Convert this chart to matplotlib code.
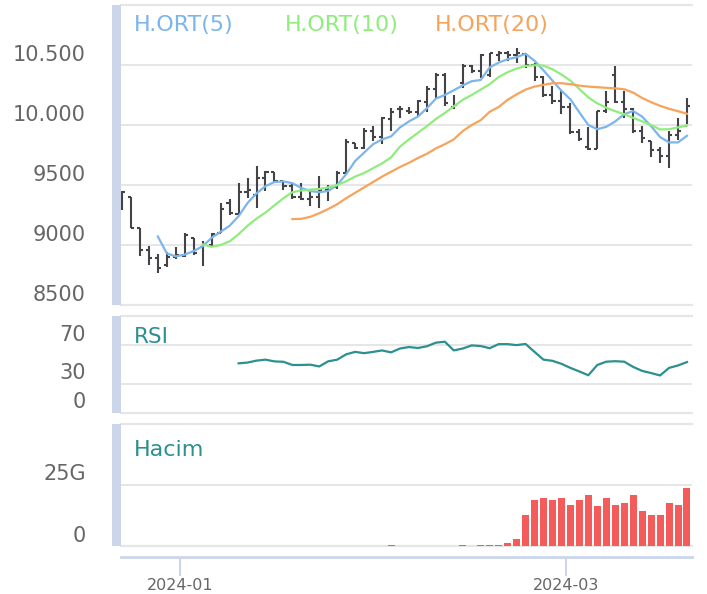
import matplotlib
matplotlib.use('Agg')
import matplotlib.pyplot as plt
import matplotlib.transforms as mtransforms
from matplotlib.patches import Rectangle
import pandas as pd

W, H = 707, 594

# trading days shown (BIST, 1 Jan closed)
dates = [d for d in pd.bdate_range('2023-12-21', '2024-03-20') if d != pd.Timestamp('2024-01-01')]
month_ticks = ['2024-01', '2024-03']

opens = [9400, 9400, 9145, 8960, 8890, 8830, 8900, 8910, 9060, 8980, 9000, 9100, 9350,
         9260, 9440, 9419, 9560, 9607, 9530, 9490, 9400, 9380, 9400, 9460, 9480,
         9600, 9850, 9810, 9950, 9900, 10050, 10130, 10120, 10110, 10190, 10300, 10420,
         10150, 10350, 10490, 10450, 10420, 10580, 10600, 10580, 10590, 10500, 10400,
         10250, 10200, 10150, 9940, 9820, 9800, 10116, 10420, 10191, 10130, 9950,
         9870, 9791, 9741, 9920, 9990]
highs = [9450, 9400, 9145, 8990, 8925, 8940, 8980, 9100, 9060, 9030, 9100, 9350, 9380,
         9520, 9559, 9657, 9615, 9607, 9531, 9520, 9517, 9461, 9573, 9500, 9615,
         9880, 9852, 9977, 9991, 10070, 10140, 10160, 10150, 10210, 10325, 10433, 10430,
         10250, 10507, 10500, 10590, 10604, 10618, 10618, 10640, 10597, 10520, 10409,
         10325, 10284, 10180, 9970, 9985, 10120, 10280, 10495, 10280, 10140, 9990,
         9870, 9820, 9949, 10060, 10225]
lows = [9290, 9140, 8910, 8830, 8765, 8820, 8880, 8900, 8920, 8825, 8990, 9100, 9250,
        9250, 9392, 9308, 9447, 9517, 9461, 9380, 9378, 9322, 9308, 9364, 9470,
        9590, 9796, 9800, 9870, 9840, 9950, 10060, 10088, 10075, 10110, 10228, 10160,
        10130, 10310, 10437, 10395, 10400, 10530, 10530, 10515, 10479, 10367, 10235,
        10179, 10095, 9921, 9870, 9793, 9796, 10100, 10186, 10060, 9935, 9852,
        9730, 9680, 9643, 9879, 10005]
closes = [9440, 9145, 8960, 8890, 8810, 8900, 8920, 9080, 8930, 9000, 9090, 9300, 9270,
          9440, 9461, 9560, 9607, 9530, 9492, 9400, 9380, 9400, 9460, 9480, 9600,
          9860, 9810, 9950, 9900, 10060, 10110, 10130, 10110, 10200, 10300, 10420, 10180,
          10170, 10490, 10450, 10580, 10600, 10600, 10580, 10600, 10500, 10400, 10250,
          10200, 10150, 9940, 9880, 9800, 10116, 10191, 10191, 10130, 9950, 9888,
          9791, 9741, 9920, 9950, 10155]

# moving averages (first value at bar 4 / 9 / 19)
ma5 = [9071, 8930, 8905, 8920, 8950, 8990, 9060, 9110, 9160, 9240,
       9350, 9430, 9490, 9525, 9530, 9515, 9475, 9450, 9440, 9450,
       9500, 9590, 9700, 9770, 9840, 9880, 9905, 9980, 10030, 10070,
       10140, 10220, 10250, 10290, 10330, 10365, 10375, 10480, 10520, 10548,
       10565, 10594, 10535, 10455, 10370, 10285, 10214, 10105, 10000, 9965,
       9985, 10030, 10090, 10116, 10070, 9990, 9900, 9855, 9855, 9910]
ma10 = [9005, 8985, 9000, 9030, 9090, 9160, 9220, 9270, 9330, 9390,
        9440, 9455, 9462, 9467, 9480, 9500, 9531, 9570, 9600, 9640,
        9680, 9730, 9820, 9880, 9935, 9990, 10050, 10100, 10155, 10210,
        10250, 10295, 10340, 10400, 10440, 10470, 10492, 10498, 10495, 10465,
        10420, 10370, 10300, 10230, 10180, 10144, 10115, 10090, 10060, 10030,
        10000, 9963, 9965, 9980, 9996]
ma20 = [9216, 9218, 9235, 9265, 9300, 9340, 9390, 9435, 9480, 9525,
        9570, 9610, 9650, 9685, 9725, 9760, 9805, 9840, 9880, 9950,
        10000, 10040, 10110, 10150, 10210, 10255, 10295, 10320, 10335, 10348,
        10348, 10340, 10328, 10320, 10315, 10310, 10305, 10298, 10270, 10225,
        10190, 10160, 10135, 10115, 10094]

# RSI, first value at bar 13
rsi = [51.2, 52, 54, 55, 53.2, 52.8, 49.5, 49.5, 49.8, 48,
       53.3, 55, 60.5, 63, 61.7, 63, 64.5, 62.5, 66.5, 68,
       67, 68.8, 72.5, 73.5, 64.5, 66.5, 69.7, 69, 66.8, 71,
       71, 70, 71.2, 63, 55, 53.8, 50.7, 46.5, 42.8, 38.9,
       49.5, 52.9, 53.4, 52.9, 47.5, 43.4, 41.2, 38.7, 46.5, 49, 52.5]

# volume in G, bars 0..63
volume = [0] * 30 + [0.4] + [0] * 7 + [0.4, 0, 0.4, 0.4, 0.4, 1.25, 2.9, 12.9,
          18.7, 19.5, 18.7, 19.5, 17.0, 18.7, 21.1, 16.2, 19.5, 17.0,
          17.8, 21.1, 14.5, 12.9, 12.9, 17.8, 17.0, 23.6]

C_TEXT = '#666666'
C_GRID = '#e6e6e6'
C_AXIS = '#ccd6eb'
plt.rcParams['font.family'] = ['DejaVu Sans']

fig = plt.figure(figsize=(W / 100, H / 100), dpi=100)


def box(top, bottom):
    return [121 / W, 1 - bottom / H, (692 - 121) / W, (bottom - top) / H]


def panel(top, bottom, ylim, ticks, labels):
    ax = fig.add_axes(box(top, bottom))
    ax.set_xlim(-0.11, 63.56)
    ax.set_ylim(*ylim)
    for s in ax.spines.values():
        s.set_visible(False)
    ax.set_yticks(ticks, labels)
    ax.grid(axis='y', color=C_GRID, lw=1.4)
    ax.axhline(ylim[0], color=C_GRID, lw=1.6, clip_on=False, zorder=0)
    ax.axhline(ylim[1], color=C_GRID, lw=1.6, clip_on=False, zorder=0)
    ax.tick_params(axis='y', length=0, pad=25.2, labelsize=15, labelcolor=C_TEXT)
    ax.tick_params(axis='x', bottom=False, labelbottom=False)
    off = mtransforms.ScaledTranslation(0, 4.5 / 100, fig.dpi_scale_trans)
    for lab in ax.get_yticklabels():
        lab.set_transform(lab.get_transform() + off)
        lab.set_va('baseline')
    fig.add_artist(Rectangle((112 / W, 1 - bottom / H), 9 / W, (bottom - top) / H,
                             transform=fig.transFigure, color=C_AXIS, lw=0))
    return ax


ax = panel(5, 305, (8500, 11000), [8500, 9000, 9500, 10000, 10500, 11000],
           ['8500', '9000', '9500', '10.000', '10.500', ''])
ax_rsi = panel(316, 413, (0, 100), [0, 30, 70, 100], ['0', '30', '70', ''])
ax_vol = panel(424, 546, (0, 50), [0, 25, 50], ['0', '25G', ''])

x = list(range(len(dates)))
d = 0.35
ohlc_kw = dict(color='#434348', lw=1.5, zorder=3)
ax.vlines(x, lows, highs, **ohlc_kw)
ax.hlines(opens, [i - d for i in x], x, **ohlc_kw)
ax.hlines(closes, x, [i + d for i in x], **ohlc_kw)

ax.plot(x[4:], ma5, color='#7cb5ec', lw=1.6, zorder=4)
ax.plot(x[9:], ma10, color='#90ed7d', lw=1.6, zorder=4)
ax.plot(x[19:], ma20, color='#f7a35c', lw=1.6, zorder=4)

for xp, name, col in [(134, 'H.ORT(5)', '#7cb5ec'), (285, 'H.ORT(10)', '#90ed7d'),
                      (435, 'H.ORT(20)', '#f7a35c')]:
    fig.text(xp / W, 1 - 31 / H, name, color=col, fontsize=16, va='baseline')

ax_rsi.plot(x[13:], rsi, color='#2b908f', lw=1.6)
fig.text(134 / W, 1 - 343 / H, 'RSI', color='#2b908f', fontsize=15.5, va='baseline')

ax_vol.bar(x, volume, width=0.78, color='#f45b5b', zorder=3)
fig.text(134 / W, 1 - 456 / H, 'Hacim', color='#2b908f', fontsize=16, va='baseline')

# date axis under the volume panel, ticks on month boundaries
tick_pos = [next(i for i, dt in enumerate(dates) if dt.strftime('%Y-%m') == m) - 0.5
            for m in month_ticks]
ax_vol.spines['bottom'].set_visible(True)
ax_vol.spines['bottom'].set_position(('outward', 8))
ax_vol.spines['bottom'].set_color(C_AXIS)
ax_vol.spines['bottom'].set_linewidth(2)
ax_vol.set_xticks(tick_pos, month_ticks)
ax_vol.tick_params(axis='x', bottom=True, labelbottom=True, direction='out', length=14,
                   width=1.5, color=C_AXIS, labelsize=11.5, labelcolor=C_TEXT, pad=1)

fig.savefig('out.png', dpi=100)
